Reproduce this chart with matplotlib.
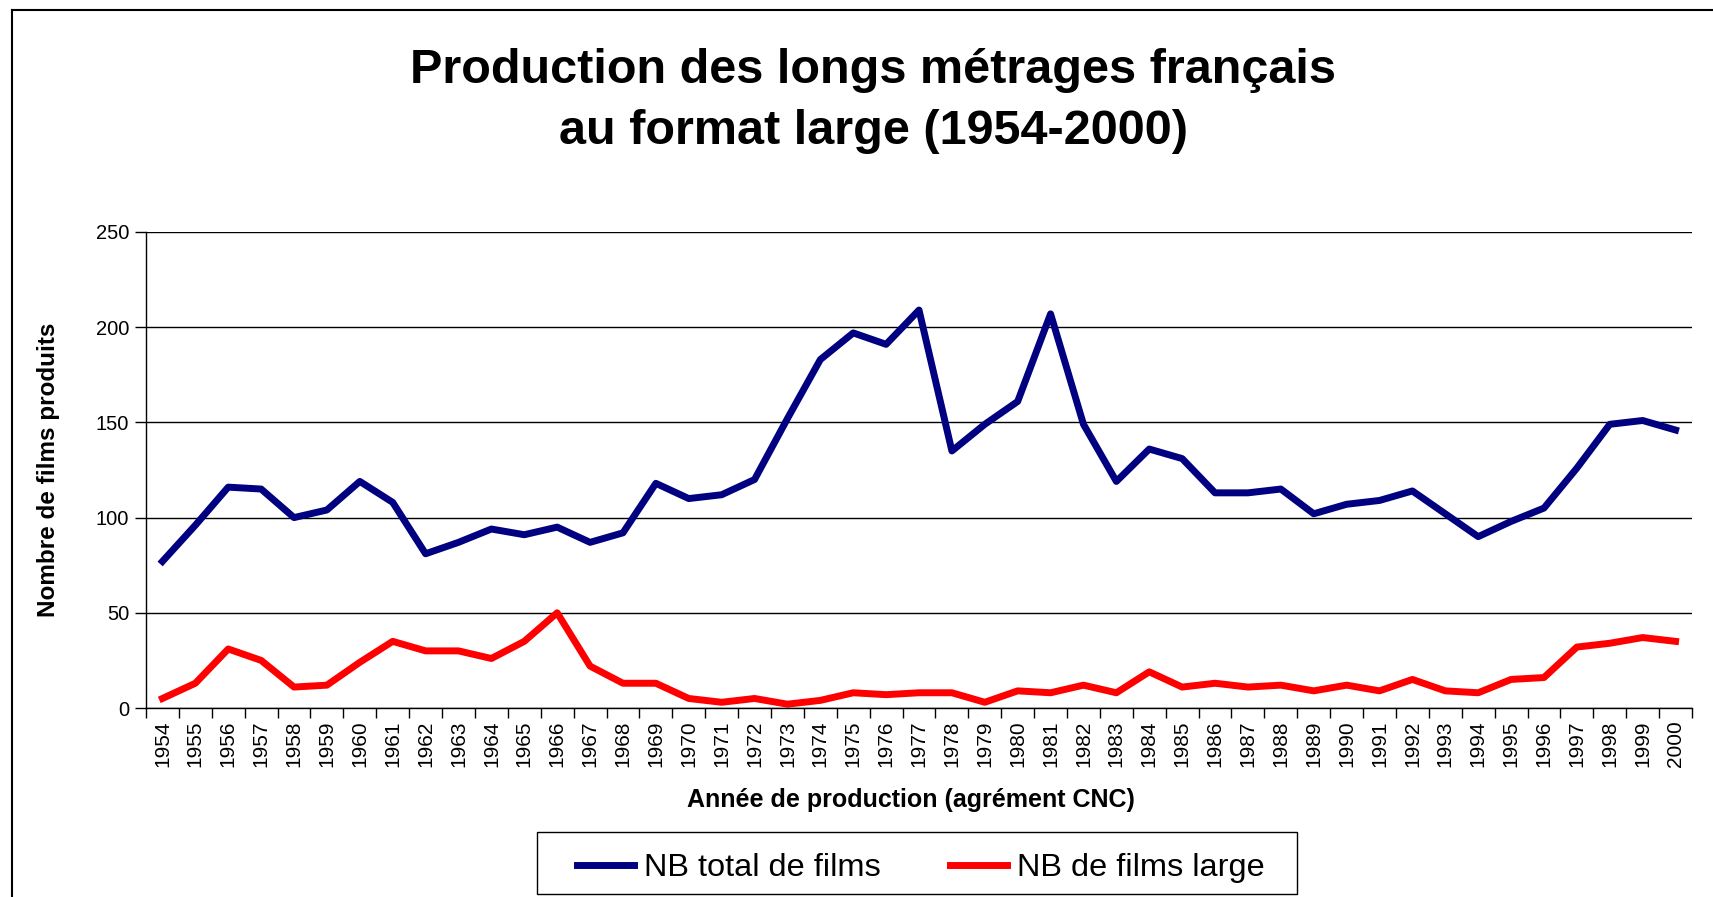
import matplotlib
matplotlib.use("Agg")
import matplotlib.pyplot as plt
from matplotlib.lines import Line2D
from matplotlib.patches import Rectangle
import numpy as np

plt.rcParams['font.family'] = ['Liberation Sans', 'DejaVu Sans']

years = list(range(1954, 2001))
total_films = [77, 96, 116, 115, 100, 104, 119, 108, 81, 87,
               94, 91, 95, 87, 92, 118, 110, 112, 120, 152,
               183, 197, 191, 209, 135, 149, 161, 207, 149, 119,
               136, 131, 113, 113, 115, 102, 107, 109, 114, 102,
               90, 98, 105, 126, 149, 151, 146]
large_films = [5, 13, 31, 25, 11, 12, 24, 35, 30, 30,
               26, 35, 50, 22, 13, 13, 5, 3, 5, 2,
               4, 8, 7, 8, 8, 3, 9, 8, 12, 8,
               19, 11, 13, 11, 12, 9, 12, 9, 15, 9,
               8, 15, 16, 32, 34, 37, 35]
series_names = ["NB total de films", "NB de films large"]
series_colors = ["#000080", "#FF0000"]

W, H = 1713, 897
fig = plt.figure(figsize=(W / 100, H / 100), dpi=100)
ax = fig.add_axes([146 / W, 189 / H, 1546 / W, 476 / H])

x = np.arange(len(years))
ax.plot(x, total_films, color=series_colors[0], linewidth=5, label=series_names[0])
ax.plot(x, large_films, color=series_colors[1], linewidth=5, label=series_names[1])

ax.set_xlim(-0.5, len(years) - 0.5)
ax.set_ylim(0, 250)
ax.set_yticks(np.arange(0, 251, 50))
ax.tick_params(axis='y', labelsize=14.5, length=8, width=1, direction='out', pad=4)
ax.yaxis.grid(True, color='black', linewidth=1)
ax.set_axisbelow(True)

# category boundaries get tick marks, labels sit on the centres
ax.set_xticks(np.arange(-0.5, len(years), 1))
ax.set_xticklabels([])
ax.set_xticks(x, minor=True)
ax.set_xticklabels([str(y) for y in years], minor=True, rotation=90, fontsize=15)
ax.tick_params(axis='x', which='major', length=7, width=1, direction='out')
ax.tick_params(axis='x', which='minor', length=0, pad=9)

for side in ['top', 'right']:
    ax.spines[side].set_visible(False)
ax.spines['left'].set_linewidth(1)
ax.spines['bottom'].set_linewidth(1)

ax.set_ylabel("Nombre de films produits", fontsize=17.5, fontweight='bold', va='center')
ax.yaxis.set_label_coords(-0.063, 0.5)
ax.set_xlabel("Année de production (agrément CNC)", fontsize=18, fontweight='bold', va='center')
ax.xaxis.set_label_coords(0.4948, -0.193)

fig.suptitle("Production des longs métrages français\nau format large (1954-2000)",
             x=873 / W, y=1 - 101 / H, va='center', fontsize=35, fontweight='bold',
             linespacing=1.47)

leg = fig.legend(loc='center', bbox_to_anchor=(921 / W, 1 - 868 / H), ncol=2,
                 fontsize=23.4, frameon=False, handlelength=1.75,
                 handletextpad=0.3, columnspacing=2.15)
for line in leg.get_lines():
    line.set_linewidth(5)
# legend box
fig.add_artist(Rectangle((537 / W, 3 / H), 760 / W, 62 / H, transform=fig.transFigure,
                         fill=False, edgecolor='black', linewidth=1))

# chart area frame (left and top edges)
fig.add_artist(Line2D([12 / W, 12 / W], [0, 1 - 10 / H], color='black', linewidth=1.5))
fig.add_artist(Line2D([12 / W, 1], [1 - 10 / H, 1 - 10 / H], color='black', linewidth=1.5))

fig.savefig("out.png", dpi=100)
